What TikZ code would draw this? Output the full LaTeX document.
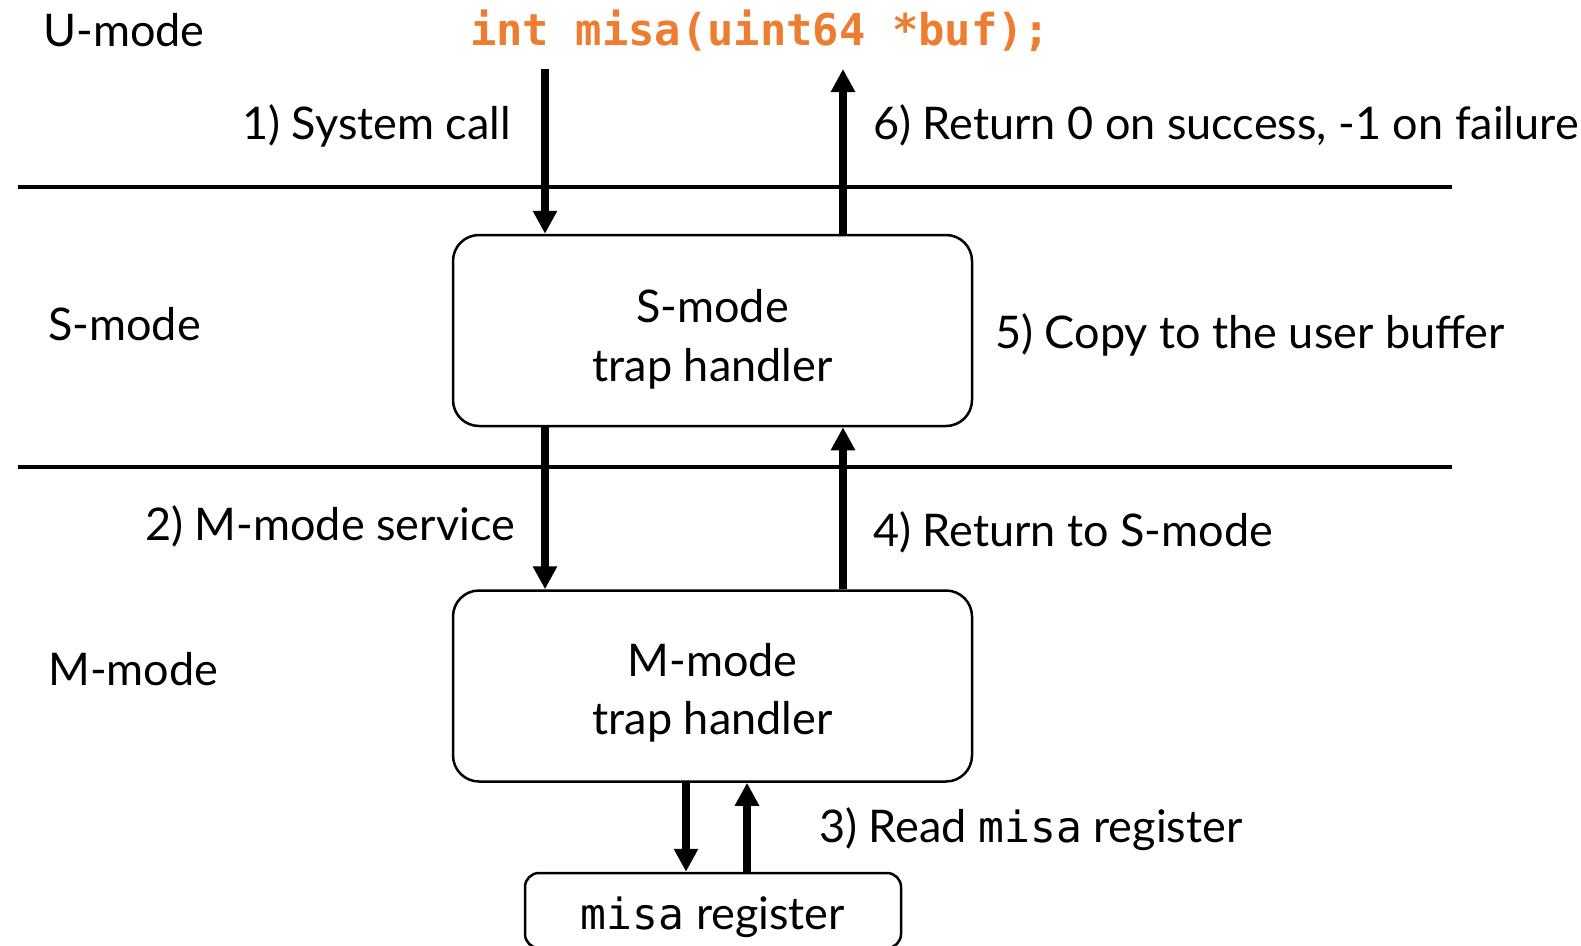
\documentclass[tikz,border=0pt]{standalone}
\usepackage{fontspec}
\setmainfont{Lato}
\setmonofont{DejaVu Sans Mono}
\usetikzlibrary{arrows.meta}
\definecolor{codeorange}{HTML}{ED7D31}
\newcommand{\lblfont}{\fontsize{45}{58}\selectfont}
\newcommand{\codefont}{\fontsize{43}{58}\selectfont\ttfamily}
\tikzset{
  lbl/.style={font=\lblfont, inner sep=0pt},
  handler/.style={draw, line width=2.5pt, rounded corners=26pt,
    minimum width=519pt, minimum height=191pt, align=center, font=\lblfont},
  regbox/.style={draw, line width=2.5pt, rounded corners=14pt,
    minimum width=376pt, minimum height=75pt, font=\lblfont},
  flow/.style={line width=7.5pt, -{Triangle[length=23pt,width=23pt]}},
  rule/.style={line width=3.2pt},
}
\begin{document}
\begin{tikzpicture}[x=1pt,y=-1pt]
\useasboundingbox (0,0) rectangle (1581,945);

% privilege-level separators
\draw[rule] (18,187) -- (1452,187);
\draw[rule] (18,467) -- (1452,467);

% mode labels
\node[lbl, anchor=base west] (umode) at (43,46) {U-mode};
\node[lbl, anchor=base west] (smode) at (48,340) {S-mode};
\node[lbl, anchor=base west] (mmode) at (48,685) {M-mode};

% user-level prototype
\node[inner sep=0pt, anchor=base west, text=codeorange,
      font=\fontsize{43.8}{50}\selectfont\ttfamily\bfseries] (proto) at (470,45)
  {int misa(uint64 *buf);};

% trap handlers and the register
\node[handler] (s) at (712.5,330.5) {};
\node[handler] (m) at (712.5,686) {};
\node[regbox] (reg) at (713,910.5) {};

% handler and register captions
\node[lbl, anchor=base] (stext1) at (s.center |- 0,322) {S-mode};
\node[lbl, anchor=base] (stext2) at (s.center |- 0,381) {trap handler};
\node[lbl, anchor=base] (mtext1) at (m.center |- 0,676) {M-mode};
\node[lbl, anchor=base] (mtext2) at (m.center |- 0,734) {trap handler};
\node[lbl, anchor=base] (rtext) at (reg.center |- 0,929) {{\codefont misa} register};

% arrow columns
\coordinate (cdown) at (545,69);
\coordinate (cup) at (843,69);
\coordinate (rdown) at (686,0);
\coordinate (rup) at (747,0);

\draw[flow] (cdown) -- (cdown |- s.north);
\draw[flow] (s.north -| cup) -- (cup);
\draw[flow] (s.south -| cdown) -- (m.north -| cdown);
\draw[flow] (m.north -| cup) -- (s.south -| cup);
\draw[flow] (m.south -| rdown) -- (reg.north -| rdown);
\draw[flow] (reg.north -| rup) -- (m.south -| rup);

% step labels
\node[lbl, anchor=base east] (l1) at (511,139) {1) System call};
\node[lbl, anchor=base west] (l6) at (873,139) {6) Return 0 on success, -1 on failure};
\node[lbl, anchor=base west] (l5) at (995,348) {5) Copy to the user buffer};
\node[lbl, anchor=base east] (l2) at (515,540) {2) M-mode service};
\node[lbl, anchor=base west] (l4) at (873,546) {4) Return to S-mode};
\node[lbl, anchor=base west] (l3) at (819,842) {3) Read {\codefont misa} register};
\end{tikzpicture}
\end{document}
